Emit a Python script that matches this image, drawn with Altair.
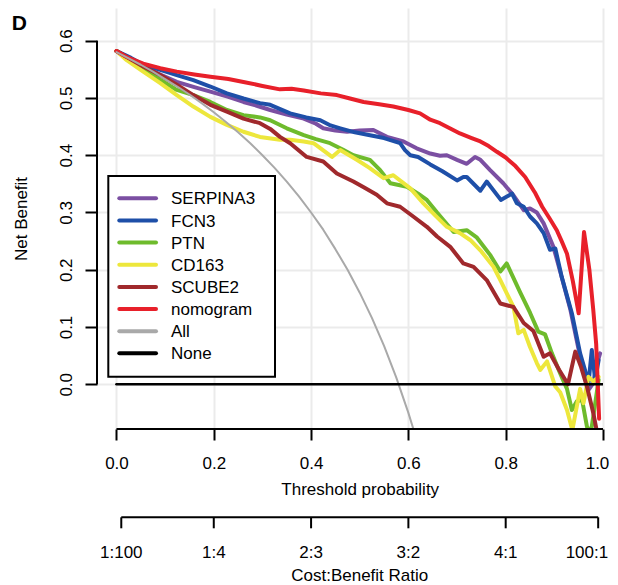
import altair as alt
import pandas as pd

FONT = "Liberation Sans"

# ---------------- data ----------------
serp_t = [0, 0.03, 0.055, 0.09, 0.124, 0.16, 0.193, 0.23, 0.261, 0.29, 0.316, 0.35, 0.385, 0.41, 0.425, 0.45,
          0.474, 0.5, 0.528, 0.556, 0.59, 0.617, 0.645, 0.665, 0.679, 0.70, 0.72, 0.737, 0.748, 0.768, 0.795,
          0.816, 0.837, 0.85, 0.864, 0.878, 0.898, 0.912, 0.933, 0.953, 0.97, 0.98, 0.988, 0.994]
serp_nb = [0.582, 0.567, 0.555, 0.541, 0.528, 0.519, 0.511, 0.502, 0.493, 0.486, 0.479, 0.471, 0.464, 0.455,
           0.447, 0.443, 0.441, 0.443, 0.444, 0.432, 0.424, 0.412, 0.403, 0.399, 0.400, 0.392, 0.385, 0.397,
           0.392, 0.374, 0.351, 0.330, 0.304, 0.307, 0.300, 0.281, 0.240, 0.197, 0.130, 0.048, -0.010, 0.002,
           0.037, 0.054]

fcn3_t = [0, 0.03, 0.055, 0.09, 0.124, 0.158, 0.193, 0.227, 0.261, 0.295, 0.316, 0.357, 0.39, 0.419, 0.44,
          0.46, 0.49, 0.521, 0.55, 0.583, 0.593, 0.604, 0.62, 0.645, 0.67, 0.70, 0.713, 0.72, 0.748, 0.761,
          0.79, 0.813, 0.823, 0.837, 0.85, 0.864, 0.878, 0.891, 0.902, 0.915, 0.936, 0.953, 0.963, 0.97,
          0.977, 0.984, 0.991]
fcn3_nb = [0.582, 0.570, 0.558, 0.549, 0.540, 0.531, 0.520, 0.508, 0.499, 0.491, 0.488, 0.473, 0.466, 0.461,
           0.452, 0.447, 0.440, 0.435, 0.430, 0.421, 0.409, 0.400, 0.397, 0.384, 0.372, 0.356, 0.362, 0.362,
           0.338, 0.354, 0.322, 0.333, 0.316, 0.310, 0.293, 0.281, 0.264, 0.235, 0.237, 0.188, 0.124, 0.054,
           0.025, 0.000, 0.060, 0.007, 0.042]

ptn_t = [0, 0.03, 0.055, 0.09, 0.124, 0.158, 0.193, 0.227, 0.261, 0.295, 0.316, 0.35, 0.385, 0.41, 0.439,
         0.465, 0.487, 0.521, 0.542, 0.563, 0.597, 0.62, 0.638, 0.659, 0.672, 0.693, 0.72, 0.741, 0.768,
         0.789, 0.802, 0.83, 0.85, 0.867, 0.881, 0.895, 0.912, 0.926, 0.936, 0.946, 0.957, 0.967, 0.975,
         0.984, 0.991]
ptn_nb = [0.582, 0.565, 0.552, 0.532, 0.514, 0.505, 0.493, 0.479, 0.470, 0.466, 0.461, 0.447, 0.435, 0.428,
          0.421, 0.410, 0.400, 0.392, 0.374, 0.351, 0.345, 0.333, 0.322, 0.300, 0.287, 0.266, 0.269, 0.256,
          0.226, 0.197, 0.211, 0.160, 0.125, 0.092, 0.087, 0.054, 0.019, -0.008, -0.045, -0.030, -0.027,
          -0.074, -0.085, -0.033, 0.008]

cd163_t = [0, 0.021, 0.055, 0.09, 0.124, 0.158, 0.193, 0.227, 0.261, 0.295, 0.336, 0.357, 0.385, 0.405,
           0.443, 0.46, 0.494, 0.52, 0.549, 0.569, 0.604, 0.631, 0.655, 0.679, 0.706, 0.727, 0.75, 0.775,
           0.79, 0.802, 0.816, 0.826, 0.837, 0.85, 0.864, 0.871, 0.885, 0.902, 0.912, 0.926, 0.937, 0.953,
           0.96, 0.97, 0.98, 0.991]
cd163_nb = [0.582, 0.566, 0.546, 0.526, 0.505, 0.485, 0.467, 0.453, 0.441, 0.432, 0.427, 0.427, 0.424, 0.421,
            0.397, 0.409, 0.392, 0.378, 0.360, 0.365, 0.342, 0.316, 0.295, 0.275, 0.264, 0.252, 0.232, 0.205,
            0.180, 0.159, 0.135, 0.089, 0.095, 0.065, 0.037, 0.025, 0.040, -0.004, -0.014, -0.045, -0.080,
            -0.008, -0.033, 0.013, 0.005, 0.013]

scube2_t = [0, 0.03, 0.055, 0.09, 0.124, 0.158, 0.193, 0.227, 0.261, 0.295, 0.316, 0.336, 0.357, 0.391,
            0.425, 0.453, 0.487, 0.51, 0.535, 0.556, 0.583, 0.61, 0.638, 0.659, 0.686, 0.713, 0.734, 0.761,
            0.789, 0.816, 0.837, 0.857, 0.878, 0.891, 0.91, 0.928, 0.943, 0.955, 0.967, 0.98, 0.988]
scube2_nb = [0.582, 0.567, 0.555, 0.540, 0.523, 0.505, 0.488, 0.476, 0.464, 0.456, 0.446, 0.432, 0.421,
             0.397, 0.389, 0.368, 0.354, 0.343, 0.331, 0.316, 0.310, 0.293, 0.275, 0.258, 0.240, 0.211,
             0.205, 0.182, 0.141, 0.135, 0.107, 0.093, 0.048, 0.054, 0.025, 0.000, 0.057, 0.030, -0.004,
             -0.050, -0.085]

nomo_t = [0, 0.02, 0.055, 0.09, 0.124, 0.16, 0.193, 0.23, 0.261, 0.30, 0.336, 0.36, 0.385, 0.42, 0.453,
          0.48, 0.508, 0.54, 0.569, 0.60, 0.624, 0.645, 0.665, 0.69, 0.706, 0.73, 0.748, 0.765, 0.782, 0.80,
          0.82, 0.84, 0.86, 0.875, 0.89, 0.905, 0.915, 0.926, 0.938, 0.95, 0.961, 0.972, 0.98, 0.986, 0.992]
nomo_nb = [0.582, 0.572, 0.560, 0.552, 0.546, 0.541, 0.537, 0.533, 0.528, 0.521, 0.515, 0.516, 0.513, 0.508,
           0.505, 0.499, 0.493, 0.489, 0.485, 0.479, 0.473, 0.462, 0.456, 0.445, 0.438, 0.430, 0.424, 0.416,
           0.406, 0.396, 0.381, 0.362, 0.335, 0.310, 0.290, 0.269, 0.250, 0.228, 0.180, 0.124, 0.266, 0.200,
           0.130, 0.070, -0.060]

all_t = [0, 0.025, 0.05, 0.075, 0.10, 0.125, 0.15, 0.175, 0.20, 0.225, 0.25, 0.275, 0.30, 0.325, 0.35,
         0.375, 0.40, 0.425, 0.45, 0.475, 0.50, 0.525, 0.55, 0.575, 0.60, 0.62]
all_nb = [0.580, 0.569, 0.558, 0.546, 0.533, 0.520, 0.506, 0.491, 0.475, 0.458, 0.440, 0.421, 0.400, 0.378,
          0.354, 0.328, 0.300, 0.270, 0.236, 0.200, 0.160, 0.116, 0.067, 0.012, -0.050, -0.105]

none_t = [0.0, 1.0]
none_nb = [0.0, 0.0]

names = ["SERPINA3", "FCN3", "PTN", "CD163", "SCUBE2", "nomogram", "All", "None"]
colors = ["#7B4FA2", "#1E4FA8", "#6EBB2C", "#EDE73C", "#A0292C", "#E8202A", "#A9A9A9", "#000000"]

x_ticks = [0.0, 0.2, 0.4, 0.6, 0.8, 1.0]
y_ticks = [0.0, 0.1, 0.2, 0.3, 0.4, 0.5, 0.6]
cb_t = [0.0099, 0.2, 0.4, 0.6, 0.8, 0.9901]
cb_labels = ["1:100", "1:4", "2:3", "3:2", "4:1", "100:1"]

# ---------------- scales & axes ----------------
xs = alt.Scale(domain=[-0.04, 1.0], nice=False, zero=False)
ys = alt.Scale(domain=[-0.0781, 0.6571], nice=False, zero=False)

xaxis = alt.Axis(values=x_ticks, format=".1f", domain=False, ticks=True, tickColor="black", tickWidth=2,
                 tickSize=11, labelFont=FONT, labelFontSize=17, labelColor="black", labelPadding=28.7,
                 labelBaseline="alphabetic", labelFlush=False, labelOverlap=False,
                 labelOffset={"condition": {"test": "datum.value >= 1", "value": -6}, "value": 0},
                 grid=True, gridColor="#EBEBEB", gridWidth=2,
                 title="Threshold probability", titleFont=FONT, titleFontSize=17, titleFontWeight="normal",
                 titleColor="black", titleX=262.7, titleY=65.2, titleBaseline="alphabetic", titleAlign="center")
yaxis = alt.Axis(values=y_ticks, format=".1f", domain=False, ticks=True, tickColor="black", tickWidth=2,
                 tickSize=12, labelFont=FONT, labelFontSize=17, labelColor="black", labelAngle=270,
                 labelAlign="center", labelBaseline="alphabetic", labelPadding=13.5, labelFlush=False,
                 labelOverlap=False, grid=True, gridColor="#EBEBEB", gridWidth=2,
                 title="Net Benefit", titleFont=FONT, titleFontSize=17, titleFontWeight="normal",
                 titleColor="black", titleAngle=270, titleX=-71, titleY=210.5, titleBaseline="alphabetic",
                 titleAlign="center")


def X(field):
    return alt.X(field, scale=xs, axis=xaxis)


def Y(field):
    return alt.Y(field, scale=ys, axis=yaxis)


series = [
    (serp_t, serp_nb, colors[0], 4),
    (fcn3_t, fcn3_nb, colors[1], 4),
    (ptn_t, ptn_nb, colors[2], 4),
    (cd163_t, cd163_nb, colors[3], 4),
    (scube2_t, scube2_nb, colors[4], 4),
    (nomo_t, nomo_nb, colors[5], 4),
    (all_t, all_nb, colors[6], 2),
    (none_t, none_nb, colors[7], 2.6),
]

layers = []
for tt, nb, col, w in series:
    df = pd.DataFrame({"t": tt, "nb": nb})
    layers.append(
        alt.Chart(df).mark_line(color=col, strokeWidth=w, clip=True, strokeJoin="round", strokeCap="round")
        .encode(x=X("t:Q"), y=Y("nb:Q"))
    )

# axis lines (R style, spanning only the tick range)
xline = alt.Chart(pd.DataFrame({"t0": [x_ticks[0]], "t1": [x_ticks[-1]]})).mark_rule(
    color="black", strokeWidth=2).encode(x=X("t0:Q"), x2="t1:Q", y=alt.value(421))
yline = alt.Chart(pd.DataFrame({"v0": [y_ticks[0]], "v1": [y_ticks[-1]]})).mark_rule(
    color="black", strokeWidth=2).encode(x=alt.value(0), y=Y("v0:Q"), y2="v1:Q")
layers += [xline, yline]

# second axis: Cost:Benefit Ratio
cb_df = pd.DataFrame({"t": cb_t, "label": cb_labels})
cb_line = alt.Chart(pd.DataFrame({"t0": [cb_t[0]], "t1": [cb_t[-1]]})).mark_rule(
    color="black", strokeWidth=2).encode(x=X("t0:Q"), x2="t1:Q", y=alt.value(509.3))
cb_ticks = alt.Chart(cb_df).mark_rule(color="black", strokeWidth=2).encode(
    x=X("t:Q"), y=alt.value(509.3), y2=alt.value(520.3))
cb_text = alt.Chart(cb_df.iloc[:-1]).mark_text(font=FONT, fontSize=17, color="black", align="center",
                                               baseline="alphabetic").encode(
    x=X("t:Q"), y=alt.value(549.5), text="label:N")
cb_text_last = alt.Chart(cb_df.iloc[-1:]).mark_text(font=FONT, fontSize=17, color="black", align="right",
                                                    baseline="alphabetic", dx=10).encode(
    x=X("t:Q"), y=alt.value(549.5), text="label:N")
cb_title = alt.Chart(pd.DataFrame({"t": [0.5]})).mark_text(font=FONT, fontSize=17, color="black",
                                                          align="center", baseline="alphabetic").encode(
    x=X("t:Q"), y=alt.value(572.5), text=alt.value("Cost:Benefit Ratio"))
layers += [cb_line, cb_ticks, cb_text, cb_text_last, cb_title]

# legend box (drawn as marks)
leg_rect = alt.Chart(pd.DataFrame({"a": [0]})).mark_rect(fill="white", stroke="black", strokeWidth=2).encode(
    x=alt.value(11.3), x2=alt.value(178), y=alt.value(168), y2=alt.value(368.7))
layers.append(leg_rect)
for i, (nm, col) in enumerate(zip(names, colors)):
    ly = 190.3 + 22.15 * i
    one = pd.DataFrame({"name": [nm]})
    layers.append(alt.Chart(one).mark_rule(strokeWidth=4, strokeCap="round", color=col).encode(
        x=alt.value(22.3), x2=alt.value(59), y=alt.value(ly)))
    layers.append(alt.Chart(one).mark_text(font=FONT, fontSize=17, color="black", align="left",
                                           baseline="alphabetic").encode(
        x=alt.value(74), y=alt.value(ly + 6.1), text="name:N"))

# panel letter
panel = alt.Chart(pd.DataFrame({"a": [0]})).mark_text(font=FONT, fontSize=21, fontWeight="bold",
                                                     color="black", align="left", baseline="alphabetic").encode(
    x=alt.value(-85.3), y=alt.value(22), text=alt.value("D"))
layers.append(panel)

chart = alt.layer(*layers).properties(
    width=506, height=421,
    padding={"left": 89, "top": 0, "right": 7, "bottom": 160},
    autosize=alt.AutoSizeParams(type="none"),
).configure_view(stroke=None)

chart.save("out.html", embed_options={"renderer": "svg", "actions": False})
